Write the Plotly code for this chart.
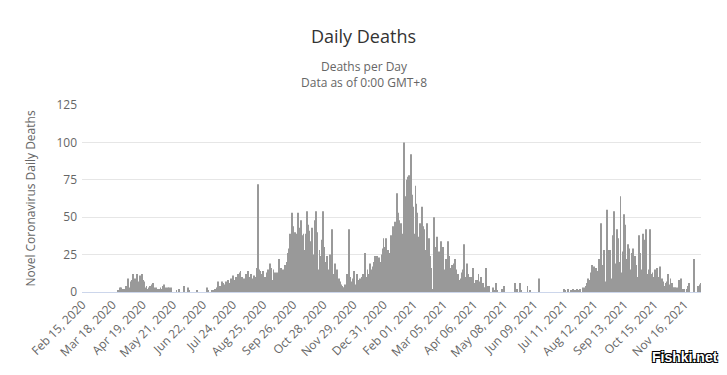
import pandas as pd
import plotly.graph_objects as go

# Daily deaths (one value per day, from Feb 15, 2020)
feb_apr_2020 = [0, 0, 0, 0, 0, 0, 0, 0, 0, 0, 0, 0, 0, 0, 0, 0, 0, 0, 0, 0,
                0, 0, 0, 0, 0, 0, 0, 0, 0, 0, 0, 0, 0, 0, 0, 0, 0, 0,
                1, 1, 3, 3, 0, 2, 0, 2, 4, 4, 9, 3, 3, 6, 7, 8, 12, 8, 9, 2,
                12, 7, 6, 11, 9, 12, 8, 7, 5, 3, 4, 2, 1, 3, 4, 3, 5, 6, 3, 2,
                3, 2, 2, 2, 1]
may_jul_2020 = [3, 2, 4, 3, 5, 2, 3, 0, 3, 3, 2, 3,
                0, 0, 0, 0, 0,
                1, 0, 0, 2,
                0, 0, 0, 0,
                4, 0, 0, 0,
                3, 1,
                0, 0, 0, 0, 0, 0, 0, 0,
                1,
                0, 0, 0, 0, 0, 0, 0, 0, 0,
                3, 1,
                0, 0, 0, 0,
                1, 1, 1, 2, 1, 3, 7, 3, 4, 2, 7, 4, 6, 5, 4, 7, 6, 8, 5, 6, 9, 4, 11, 6, 8]
jul_sep_2020 = [10, 6, 12, 8, 13, 14, 7, 10, 5, 9, 6, 12, 9, 14, 10, 8, 12, 6, 9, 11, 8, 10, 16, 12,
                72,
                15, 14, 10, 12, 14, 9, 10, 8, 13, 15, 11, 19, 16, 14, 8, 15, 12, 13, 10, 13, 10, 22,
                15, 16, 8, 15, 12, 18,
                15, 20, 26, 29, 24, 39, 30, 53, 44, 30, 40, 39, 25, 53, 43, 10, 48, 38, 30, 39, 28]
oct_dec_2020 = [30, 39, 54, 45, 41, 34, 30, 43, 25, 18,
                48, 54, 40, 15, 13, 28, 10, 24, 35, 54,
                30, 20, 6, 24, 8, 15, 25, 10, 42, 12,
                6, 19, 5, 8, 15, 5, 9, 7, 5, 4,
                3, 3, 5, 4, 12, 8, 42, 10, 5, 7,
                5, 9, 14, 5, 0, 12, 6, 8, 9, 6,
                10, 12, 7, 26, 10, 8, 15, 12, 10, 19,
                13, 15, 17, 20, 24, 18, 24, 19, 23, 20,
                15, 25, 29, 36, 15]
jan_mar_2021 = [30, 36, 22, 28, 26, 20, 38, 32, 44, 30,
                47, 37, 66, 46, 53, 48, 40, 46, 39, 36,
                100, 64, 58, 75, 77, 78, 14, 92, 65, 57,
                39, 19, 71, 59, 53, 19, 37, 46, 40, 57,
                44, 42, 28, 15, 46, 26, 36, 24, 22, 16,
                2, 0, 50, 18, 30, 37, 26, 27, 8, 34,
                19, 30, 15, 13, 22, 22, 20, 34, 24, 16,
                10, 18, 7, 19, 22, 15, 10, 12, 8, 4]
apr_jun_2021 = [9, 13, 15, 10, 32, 10, 2, 19, 12, 8,
                10, 10, 3, 16, 6, 4, 8, 5, 8, 12,
                5, 7, 10, 5, 6, 3, 3, 16, 4, 4,
                4, 0, 0, 0, 3, 0, 1, 0, 6, 1,
                0, 0, 0, 0, 2, 0, 4, 0, 0, 0,
                0, 0, 0, 0, 0, 0, 0, 0, 6, 2,
                2, 0, 0, 6, 1, 0, 0, 0, 0, 0,
                0, 4, 0, 0, 1]
jun_aug_2021 = [0, 0, 0, 0, 0, 0, 0, 0, 9, 0,
                0, 0, 0, 0, 0, 0, 0, 0, 0, 0,
                0, 0, 0, 0, 0, 0, 0, 0, 0, 0,
                0, 0, 0, 0, 0, 2, 1, 0, 0, 2,
                0, 0, 1, 0, 2, 2, 0, 1, 0, 2,
                0, 1, 2, 0, 0, 3, 1, 3, 4, 6,
                9, 8, 5, 7, 13, 18, 6, 17, 12, 16,
                6, 14, 22, 18, 46, 18, 17, 28, 17, 7,
                23, 55, 22, 28]
sep_dec_2021 = [28, 9, 6, 38, 54, 19, 5, 42, 36, 14,
                20, 64, 13, 10, 27, 52, 45, 22, 15, 32,
                29, 12, 15, 26, 29, 8, 24, 18, 6, 10,
                0, 38, 26, 15, 8, 39, 28, 35, 42, 12,
                6, 15, 42, 6, 12, 13, 10, 6, 15, 3,
                16, 3, 10, 17, 6, 9, 7, 4, 3, 6,
                7, 12, 8, 5, 9, 5, 6, 3, 3, 3,
                3, 0, 3, 8, 0, 9, 2, 2, 2, 0,
                0, 2, 0, 4, 6, 0, 0, 0, 0, 22,
                0, 0, 0, 4, 3, 5, 6]

start_date = "2020-02-15"
tick_every = 32
y_ticks = [0, 25, 50, 75, 100, 125]

deaths = (feb_apr_2020 + may_jul_2020 + jul_sep_2020 + oct_dec_2020 +
          jan_mar_2021 + apr_jun_2021 + jun_aug_2021 + sep_dec_2021)
dates = pd.date_range(start_date, periods=len(deaths), freq="D")
cats = [d.strftime("%Y-%m-%d") for d in dates]
tick_vals = [cats[i] for i in range(0, len(cats), tick_every)]
tick_text = [dates[i].strftime("%b %d, %Y") for i in range(0, len(cats), tick_every)]

FONT = "Open Sans, Liberation Sans, sans-serif"
L, R, T, B = 82, 26, 105, 83
W, H = 727, 375
ph = H - T - B
pw = W - L - R

fig = go.Figure(go.Bar(
    x=cats, y=deaths,
    marker=dict(color="#999999", line=dict(width=0)),
    name="Daily Deaths",
))

fig.update_layout(
    width=W, height=H,
    margin=dict(l=L, r=R, t=T, b=B, autoexpand=False),
    paper_bgcolor="white", plot_bgcolor="white",
    bargap=0.1,
    showlegend=False,
    font=dict(family=FONT, color="#666666", size=12),
    title=dict(text="Daily Deaths", x=0.5, xref="container", xanchor="center",
               y=1 - 37 / H, yref="container", yanchor="middle",
               font=dict(family=FONT, size=18, color="#333333")),
    xaxis=dict(type="category", tickmode="array", tickvals=tick_vals, ticktext=tick_text,
               tickangle=-45, showgrid=False, showline=True, linecolor="#ccd6eb",
               linewidth=1, ticks="", zeroline=False, automargin=False,
               tickfont=dict(size=12, color="#666666")),
    yaxis=dict(range=[0, 125], tickmode="array", tickvals=y_ticks,
               gridcolor="#e6e6e6", gridwidth=1, showline=False, zeroline=False,
               ticks="", automargin=False, ticklabelstandoff=4,
               tickfont=dict(size=12, color="#666666"),
               title=dict(text="Novel Coronavirus Daily Deaths", standoff=18,
                          font=dict(size=12, color="#666666"))),
)

cx = (W / 2 - L) / pw
fig.add_annotation(text="Deaths per Day<br>Data as of 0:00 GMT+8", xref="paper", yref="paper",
                   x=cx, y=(H - B - 74) / ph, xanchor="center", yanchor="middle",
                   showarrow=False, align="center",
                   font=dict(family=FONT, size=12, color="#666666"))

fig.add_annotation(text="<b>Fishki.net</b>", xref="paper", yref="paper",
                   x=(720 - L) / pw, y=(H - B - 357) / ph, xanchor="right", yanchor="middle",
                   showarrow=False,
                   font=dict(family="Liberation Sans, Arial, sans-serif", size=14, color="#ffffff",
                             shadow="1px 1px 0 #000, -1px -1px 0 #000, 1px -1px 0 #000, -1px 1px 0 #000"))

fig.write_html("out.html", config={"displayModeBar": False},
               post_script="document.body.style.margin='0px';")
